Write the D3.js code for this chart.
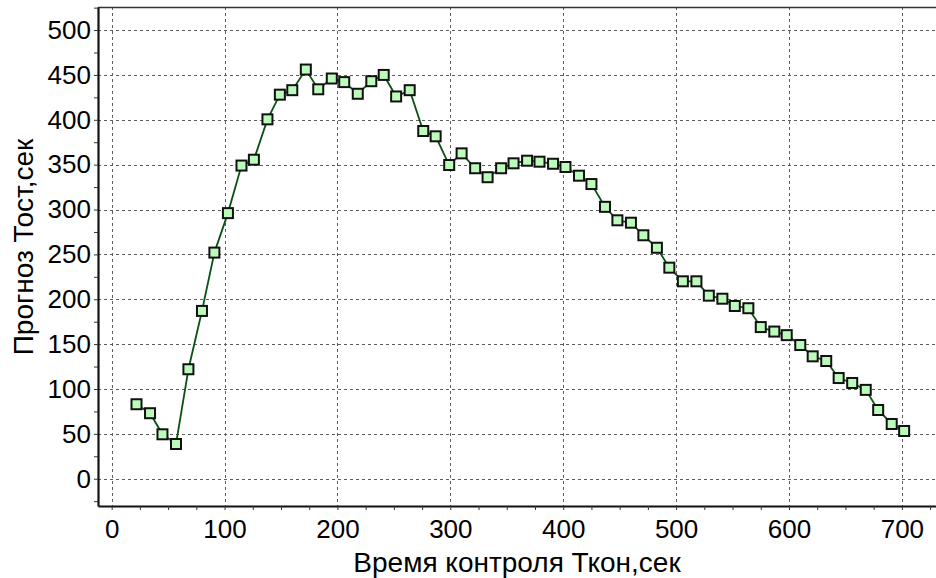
<!DOCTYPE html>
<html>
<head>
<meta charset="utf-8">
<script src="https://cdn.jsdelivr.net/npm/d3@7"></script>
<style>
  html, body { margin: 0; padding: 0; background: #fff; }
  svg { display: block; font-family: "Liberation Sans", Arial, sans-serif; }
</style>
</head>
<body>
<svg id="chart" width="936" height="578"></svg>
<script>
// time of control, sec
const tKon = [22, 34, 45, 57, 68, 80, 91, 103, 115, 126,
  138, 149, 160, 172, 183, 195, 206, 218, 230, 241,
  252, 264, 276, 287, 299, 310, 322, 333, 345, 356,
  368, 379, 391, 402, 414, 425, 437, 448, 460, 471,
  483, 494, 506, 518, 529, 541, 552, 564, 575, 587,
  598, 610, 621, 633, 644, 656, 668, 679, 691, 702];

// forecast T ost, sec
const tOst = [83, 73, 49.5, 38.7, 122, 187, 252, 296, 349, 355.5,
  400.5, 428, 433, 456, 434, 446, 442, 429, 443, 450,
  426, 433, 387.5, 381.6, 349.6, 362.6, 346, 336, 346, 351.5,
  354.4, 353.3, 351, 347.4, 337.7, 328.4, 303, 288, 285.3, 271.3,
  257.4, 235.2, 220, 220, 204, 200.6, 192.5, 190, 169, 164,
  160, 149, 136.4, 131.2, 112.2, 106.7, 99, 76.6, 61, 53.2];

const xTicks = [0, 100, 200, 300, 400, 500, 600, 700];
const yTicks = [0, 50, 100, 150, 200, 250, 300, 350, 400, 450, 500];
const xMinor = d3.range(0, 726, 25);
const yMinor = d3.range(-25, 526, 25);

const xTitle = "Время контроля Ткон,сек";
const yTitle = "Прогноз Тост,сек";

const data = tKon.map((t, i) => ({ t: t, v: tOst[i] }));

const svg = d3.select("#chart");
const margin = { top: 7, right: -2, bottom: 72, left: 98 };
const width = +svg.attr("width");
const height = +svg.attr("height");

const x = d3.scaleLinear()
  .domain([-12.1, 732])
  .range([margin.left, width - margin.right]);

const y = d3.scaleLinear()
  .domain([-30.4, 525.7])
  .range([height - margin.bottom, margin.top]);

// grid
const grid = svg.append("g")
  .attr("stroke", "#5e5e5e")
  .attr("stroke-width", 1)
  .attr("stroke-dasharray", "3,3")
  .attr("shape-rendering", "crispEdges");

grid.selectAll(".gx")
  .data(xTicks)
  .join("line")
  .attr("x1", d => Math.round(x(d)) + 0.5)
  .attr("x2", d => Math.round(x(d)) + 0.5)
  .attr("y1", margin.top)
  .attr("y2", height - margin.bottom);

grid.selectAll(".gy")
  .data(yTicks)
  .join("line")
  .attr("x1", margin.left)
  .attr("x2", width)
  .attr("y1", d => Math.round(y(d)) + 0.5)
  .attr("y2", d => Math.round(y(d)) + 0.5);

// top frame line
svg.append("line")
  .attr("x1", margin.left)
  .attr("x2", width)
  .attr("y1", margin.top + 0.5)
  .attr("y2", margin.top + 0.5)
  .attr("stroke", "#333")
  .attr("stroke-width", 1.5);

// axes
const fmtX = d => xTicks.includes(d) ? d : "";
const fmtY = d => yTicks.includes(d) ? d : "";

const gx = svg.append("g")
  .attr("transform", `translate(0,${height - margin.bottom})`)
  .call(d3.axisBottom(x).tickValues(xMinor).tickFormat(fmtX)
    .tickSize(4).tickSizeOuter(0).tickPadding(10));

const gy = svg.append("g")
  .attr("transform", `translate(${margin.left},0)`)
  .call(d3.axisLeft(y).tickValues(yMinor).tickFormat(fmtY)
    .tickSize(4).tickSizeOuter(0).tickPadding(3));

[gx, gy].forEach(g => {
  g.select(".domain").attr("stroke", "#111").attr("stroke-width", 2.2);
  g.selectAll(".tick line").attr("stroke", "#333").attr("stroke-width", 1);
  g.selectAll(".tick text")
    .attr("fill", "#000")
    .style("font-family", "'Liberation Sans', Arial, sans-serif")
    .style("font-size", "26px");
});

// line
const line = d3.line()
  .x(d => x(d.t))
  .y(d => y(d.v));

svg.append("path")
  .datum(data)
  .attr("fill", "none")
  .attr("stroke", "#0a5214")
  .attr("stroke-width", 1.8)
  .attr("d", line);

// markers
const s = 10;
svg.selectAll(".pt")
  .data(data)
  .join("rect")
  .attr("x", d => x(d.t) - s / 2)
  .attr("y", d => y(d.v) - s / 2)
  .attr("width", s)
  .attr("height", s)
  .attr("fill", "#bdfbbd")
  .attr("stroke", "#111")
  .attr("stroke-width", 2);

// titles
svg.append("text")
  .attr("x", 517)
  .attr("y", 572)
  .attr("text-anchor", "middle")
  .attr("font-size", "28px")
  .attr("fill", "#000")
  .text(xTitle);

svg.append("text")
  .attr("transform", "translate(33,247) rotate(-90)")
  .attr("text-anchor", "middle")
  .attr("font-size", "28px")
  .attr("fill", "#000")
  .text(yTitle);
</script>
</body>
</html>
